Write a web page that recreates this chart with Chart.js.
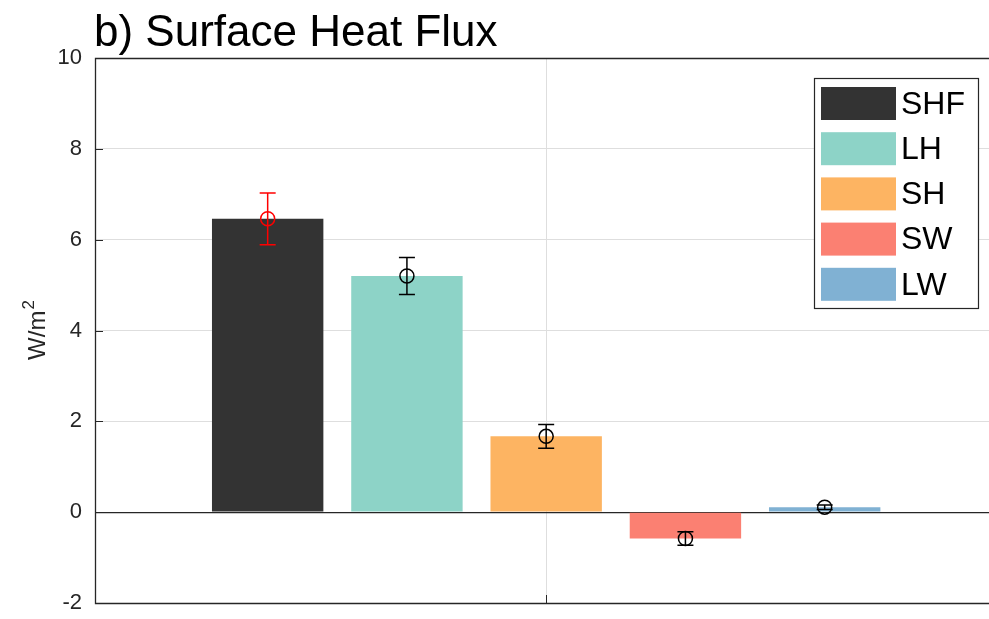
<!DOCTYPE html>
<html>
<head>
<meta charset="utf-8">
<script src="https://cdn.jsdelivr.net/npm/chart.js@4/dist/chart.umd.min.js"></script>
<style>
  html, body { margin: 0; padding: 0; background: #ffffff; overflow: hidden; }
  #wrap { width: 989px; height: 619px; }
</style>
</head>
<body>
<div id="wrap"><canvas id="flux" width="989" height="619"></canvas></div>
<script>
// Surface heat flux components (W/m^2): mean and uncertainty per term
const seriesNames  = ['SHF', 'LH', 'SH', 'SW', 'LW'];
const barPositions = [1, 2, 3, 4, 5];
const fluxMean     = [6.46, 5.20, 1.67, -0.58, 0.11];
const fluxErr      = [0.57, 0.41, 0.26, 0.15, 0.05];
const yTickValues  = [-2, 0, 2, 4, 6, 8, 10];
const xTickValues  = [3];

const barColors    = ['#333333', '#8dd3c7', '#fdb462', '#fb8072', '#80b1d3'];
const markerColors = ['#ff0000', '#000000', '#000000', '#000000', '#000000'];

const FONT = '"Liberation Sans", Arial, Helvetica, sans-serif';
const AXIS_COLOR = '#262626';
const GRID_COLOR = '#dedede';

// one bar dataset per flux term so each gets its own legend entry
const barSets = seriesNames.map((name, i) => ({
  type: 'bar',
  label: name,
  data: [{ x: barPositions[i], y: fluxMean[i] }],
  backgroundColor: barColors[i],
  borderWidth: 0,
  stack: 'terms',
  barPercentage: 0.8,
  categoryPercentage: 1.0,
  errorBar: fluxErr[i],
  errorColor: markerColors[i],
  order: 1
}));

// open circles at the mean of each term
const markerSet = {
  type: 'line',
  label: 'mean',
  data: barPositions.map((x, i) => ({ x: x, y: fluxMean[i] })),
  showLine: false,
  pointStyle: 'circle',
  pointRadius: 7,
  pointHoverRadius: 7,
  pointBorderWidth: 1.5,
  pointBorderColor: markerColors,
  pointBackgroundColor: 'rgba(0,0,0,0)',
  order: 0
};

// error bars, inward tick marks, axes box, title, y label and framed legend
const decorations = {
  id: 'decorations',
  afterDatasetsDraw(chart) {
    const { ctx, chartArea: a, scales: { x, y } } = chart;
    ctx.save();
    // error bars with caps
    chart.data.datasets.forEach((ds) => {
      if (ds.type !== 'bar') return;
      const pt = ds.data[0];
      const px = x.getPixelForValue(pt.x);
      const yTop = y.getPixelForValue(pt.y + ds.errorBar);
      const yBot = y.getPixelForValue(pt.y - ds.errorBar);
      ctx.strokeStyle = ds.errorColor;
      ctx.lineWidth = 1.5;
      ctx.beginPath();
      ctx.moveTo(px, yTop); ctx.lineTo(px, yBot);
      ctx.moveTo(px - 8, yTop); ctx.lineTo(px + 8, yTop);
      ctx.moveTo(px - 8, yBot); ctx.lineTo(px + 8, yBot);
      ctx.stroke();
    });

    // axes box: left, top, bottom
    ctx.strokeStyle = AXIS_COLOR;
    ctx.lineWidth = 1.3;
    ctx.beginPath();
    ctx.moveTo(a.right, a.top + 0.5);
    ctx.lineTo(a.left + 0.5, a.top + 0.5);
    ctx.lineTo(a.left + 0.5, a.bottom + 0.5);
    ctx.lineTo(a.right, a.bottom + 0.5);
    ctx.stroke();

    // inward tick marks
    ctx.lineWidth = 1;
    ctx.beginPath();
    y.ticks.forEach((t) => {
      const py = Math.round(y.getPixelForValue(t.value)) + 0.5;
      ctx.moveTo(a.left, py); ctx.lineTo(a.left + 8, py);
    });
    x.ticks.forEach((t) => {
      const px = Math.round(x.getPixelForValue(t.value)) + 0.5;
      ctx.moveTo(px, a.bottom); ctx.lineTo(px, a.bottom - 8);
    });
    ctx.stroke();

    // title
    ctx.fillStyle = '#000000';
    ctx.font = '44px ' + FONT;
    ctx.textAlign = 'left';
    ctx.textBaseline = 'alphabetic';
    ctx.fillText('b) Surface Heat Flux', a.left - 1, 46);

    // y axis label with superscript
    ctx.save();
    ctx.translate(45, (a.top + a.bottom) / 2);
    ctx.rotate(-Math.PI / 2);
    ctx.fillStyle = AXIS_COLOR;
    ctx.font = '24px ' + FONT;
    const base = 'W/m';
    const wBase = ctx.measureText(base).width;
    ctx.font = '17px ' + FONT;
    const wSup = ctx.measureText('2').width;
    const start = -(wBase + wSup) / 2;
    ctx.font = '24px ' + FONT;
    ctx.fillText(base, start, 0);
    ctx.font = '17px ' + FONT;
    ctx.fillText('2', start + wBase + 1, -11);
    ctx.restore();

    // legend box
    const box = { left: 814, top: 78, width: 164, height: 230 };
    ctx.fillStyle = '#ffffff';
    ctx.fillRect(box.left, box.top, box.width, box.height);
    ctx.strokeStyle = AXIS_COLOR;
    ctx.lineWidth = 1.2;
    ctx.strokeRect(box.left + 0.5, box.top + 0.5, box.width, box.height);
    const bars = chart.data.datasets.filter((d) => d.type === 'bar');
    ctx.font = '32px ' + FONT;
    ctx.textBaseline = 'middle';
    bars.forEach((d, i) => {
      const top = 87 + i * 45.2;
      ctx.fillStyle = d.backgroundColor;
      ctx.fillRect(821, top, 75, 33);
      ctx.fillStyle = '#000000';
      ctx.fillText(d.label, 901, top + 18);
    });
    ctx.restore();
  }
};

new Chart(document.getElementById('flux'), {
  data: { datasets: [...barSets, markerSet] },
  options: {
    responsive: false,
    devicePixelRatio: 1,
    animation: false,
    events: [],
    layout: { autoPadding: false, padding: { top: 58, left: 0, right: 0, bottom: 0 } },
    plugins: {
      legend: { display: false },
      tooltip: { enabled: false },
      title: { display: false }
    },
    scales: {
      x: {
        type: 'linear',
        offset: false,
        min: -0.24,
        max: 6.18,
        afterBuildTicks: (s) => { s.ticks = xTickValues.map((v) => ({ value: v })); },
        afterFit: (s) => { s.height = 16; },
        ticks: { display: false },
        border: { display: false },
        grid: { color: GRID_COLOR, lineWidth: 1, drawTicks: false, offset: false }
      },
      y: {
        type: 'linear',
        min: -2,
        max: 10,
        stacked: false,
        afterBuildTicks: (s) => { s.ticks = yTickValues.map((v) => ({ value: v })); },
        afterFit: (s) => { s.width = 95; },
        ticks: {
          padding: 0,
          color: AXIS_COLOR,
          font: { family: FONT, size: 22 },
          callback: (v) => String(v)
        },
        border: { display: false },
        grid: {
          drawTicks: true,
          tickLength: 13,
          tickColor: 'rgba(0,0,0,0)',
          lineWidth: (c) => (c.tick && c.tick.value === 0 ? 1.3 : 1),
          color: (c) => (c.tick && c.tick.value === 0 ? AXIS_COLOR : GRID_COLOR)
        }
      }
    }
  },
  plugins: [decorations]
});
</script>
</body>
</html>
